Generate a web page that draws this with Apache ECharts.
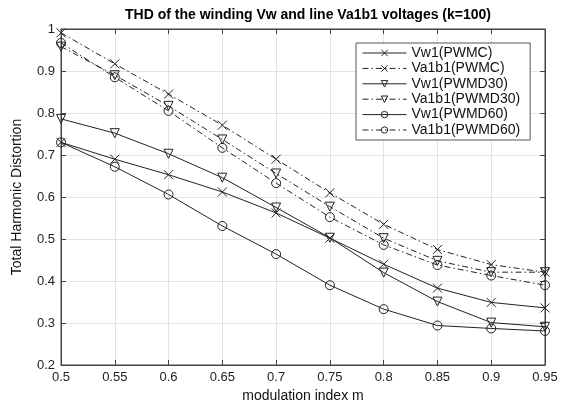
<!DOCTYPE html>
<html>
<head>
<meta charset="utf-8">
<script src="https://cdn.jsdelivr.net/npm/echarts@6/dist/echarts.min.js"></script>
<style>html,body{margin:0;padding:0;background:#fff;}#c{width:563px;height:410px;}</style>
</head>
<body>
<div id="c"></div>
<script>
const mValues = [0.5, 0.55, 0.6, 0.65, 0.7, 0.75, 0.8, 0.85, 0.9, 0.95];
const vw1PWMC      = [0.730, 0.690, 0.653, 0.612, 0.562, 0.502, 0.440, 0.383, 0.349, 0.336];
const va1b1PWMC    = [0.991, 0.917, 0.845, 0.771, 0.690, 0.610, 0.535, 0.475, 0.439, 0.421];
const vw1PWMD30    = [0.786, 0.752, 0.703, 0.646, 0.575, 0.503, 0.420, 0.351, 0.301, 0.291];
const va1b1PWMD30  = [0.958, 0.890, 0.817, 0.737, 0.656, 0.577, 0.502, 0.448, 0.421, 0.421];
const vw1PWMD60    = [0.730, 0.672, 0.606, 0.531, 0.464, 0.390, 0.333, 0.294, 0.287, 0.281];
const va1b1PWMD60  = [0.967, 0.885, 0.805, 0.717, 0.633, 0.552, 0.486, 0.438, 0.413, 0.390];
const seriesNames = ['Vw1(PWMC)', 'Va1b1(PWMC)', 'Vw1(PWMD30)', 'Va1b1(PWMD30)', 'Vw1(PWMD60)', 'Va1b1(PWMD60)'];

const crossSym = 'path://M0,0L10,10M10,0L0,10';
const triSym = 'path://M0,0L10,0L5,9Z';
const circSym = 'path://M10,5A5,5,0,1,1,0,5A5,5,0,1,1,10,5Z';
const dashDot = [6, 3, 1.5, 3];
const lineColor = '#222';

function mk(name, vals, sym, dashed) {
  return {
    name: name,
    type: 'line',
    data: mValues.map((m, i) => [m, vals[i]]),
    symbol: sym,
    symbolSize: 9,
    showAllSymbol: true,
    lineStyle: { color: lineColor, width: 1, type: dashed ? dashDot : 'solid' },
    itemStyle: { color: 'transparent', borderColor: lineColor, borderWidth: 1 },
    emphasis: { disabled: true },
    animation: false
  };
}

const chart = echarts.init(document.getElementById('c'), null, { renderer: 'canvas' });
const font = 'Liberation Sans, Arial, sans-serif';
chart.setOption({
  backgroundColor: '#fff',
  animation: false,
  textStyle: { fontFamily: font },
  title: {
    text: 'THD of the winding Vw and line Va1b1 voltages (k=100)',
    left: 303, textAlign: 'center', top: 3,
    textStyle: { fontFamily: font, fontSize: 14, fontWeight: 'bold', color: '#000' }
  },
  legend: {
    orient: 'vertical',
    left: 356, top: 43,
    padding: [3, 10, 3, 6],
    itemGap: 1.4,
    itemWidth: 44, itemHeight: 8,
    backgroundColor: '#fff',
    borderColor: '#555', borderWidth: 1,
    lineStyle: { width: 1 },
    itemStyle: { color: 'transparent', borderColor: '#222', borderWidth: 1 },
    textStyle: { fontFamily: font, fontSize: 14, color: '#111', lineHeight: 14 },
    data: seriesNames
  },
  grid: { left: 61, right: 18, top: 29, bottom: 45, show: true, borderColor: '#444', borderWidth: 1, backgroundColor: '#fff' },
  xAxis: [{
    type: 'value', min: 0.5, max: 0.95, interval: 0.05,
    name: 'modulation index m', nameLocation: 'middle', nameGap: 23,
    nameTextStyle: { fontFamily: font, fontSize: 14, color: '#111' },
    axisLine: { show: true, lineStyle: { color: '#444' } },
    axisTick: { show: true, inside: true, length: 5, lineStyle: { color: '#444' } },
    axisLabel: { fontFamily: font, fontSize: 13, color: '#222', margin: 6 },
    splitLine: { show: true, lineStyle: { color: '#e3e3e3', width: 1 } }
  }, {
    type: 'value', min: 0.5, max: 0.95, interval: 0.05, position: 'top',
    axisLine: { show: true, lineStyle: { color: '#444' } },
    axisTick: { show: true, inside: true, length: 5, lineStyle: { color: '#444' } },
    axisLabel: { show: false }, splitLine: { show: false }
  }],
  yAxis: [{
    type: 'value', min: 0.2, max: 1, interval: 0.1,
    name: 'Total Harmonic Distortion', nameLocation: 'middle', nameGap: 37,
    nameTextStyle: { fontFamily: font, fontSize: 14, color: '#111' },
    axisLine: { show: true, lineStyle: { color: '#444' } },
    axisTick: { show: true, inside: true, length: 5, lineStyle: { color: '#444' } },
    axisLabel: { fontFamily: font, fontSize: 13, color: '#222', margin: 6 },
    splitLine: { show: true, lineStyle: { color: '#e3e3e3', width: 1 } }
  }, {
    type: 'value', min: 0.2, max: 1, interval: 0.1, position: 'right',
    axisLine: { show: true, lineStyle: { color: '#444' } },
    axisTick: { show: true, inside: true, length: 5, lineStyle: { color: '#444' } },
    axisLabel: { show: false }, splitLine: { show: false }
  }],
  series: [
    mk(seriesNames[0], vw1PWMC, crossSym, false),
    mk(seriesNames[1], va1b1PWMC, crossSym, true),
    mk(seriesNames[2], vw1PWMD30, triSym, false),
    mk(seriesNames[3], va1b1PWMD30, triSym, true),
    mk(seriesNames[4], vw1PWMD60, circSym, false),
    mk(seriesNames[5], va1b1PWMD60, circSym, true)
  ]
});
</script>
</body>
</html>
